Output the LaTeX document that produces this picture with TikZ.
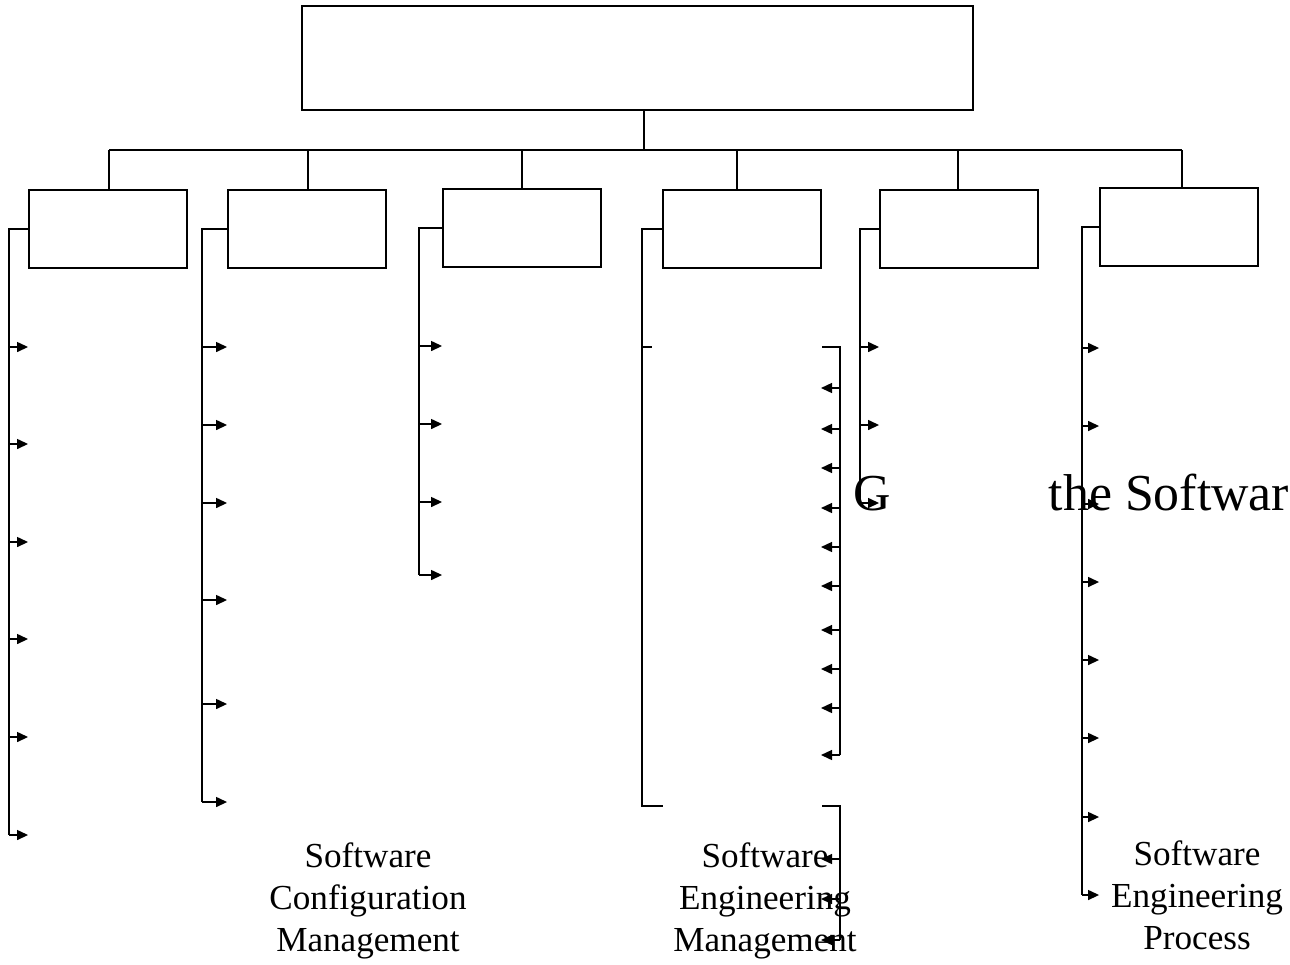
\documentclass[tikz,border=0pt]{standalone}
\usepackage{fontspec}
\setmainfont{Liberation Serif}
\usetikzlibrary{arrows.meta,positioning}

\tikzset{
  box/.style={draw, line width=1.1pt, minimum width=3.16cm, minimum height=1.56cm, inner sep=0pt},
  tip/.style={-{Triangle[length=0.22cm,width=0.2cm]}},
  lbl/.style={align=center, font=\fontsize{20}{23.9}\selectfont},
  big/.style={anchor=base west, inner sep=0pt, font=\fontsize{29.5}{36}\selectfont},
}

\begin{document}
\begin{tikzpicture}[x=0.02cm, y=-0.02cm, line width=0.8pt]
    \useasboundingbox (0,0) rectangle (1290,964);
    \clip (0,0) rectangle (1290,964);

    % boxes
    \node[draw, line width=1pt, minimum width=13.42cm, minimum height=2.08cm] (top) at (637.5,58) {};
    \node[box] (c1) at (108,229) {};
    \node[box] (c2) at (307,229) {};
    \node[box] (c3) at (522,228) {};
    \node[box] (c4) at (742,229) {};
    \node[box] (c5) at (959,229) {};
    \node[box] (c6) at (1179,227) {};

    % bus
    \coordinate (hub) at (644,150);
    \draw (hub) -- (hub |- top.south);
    \draw (109,150) -- (1182,150);
    \foreach \c/\x in {c1/109,c2/308,c3/522,c4/737,c5/958,c6/1182}
        \draw (\c.north -| \x,0) -- (\x,150);

    % branch points
    \coordinate (s1) at (c1.west -| 9,0);
    \coordinate (s2) at (c2.west -| 202,0);
    \coordinate (s3) at (c3.west -| 419,0);
    \coordinate (s4) at (c4.west -| 642,0);
    \coordinate (s5) at (c5.west -| 860,0);
    \coordinate (s6) at (c6.west -| 1082,0);

    \draw (c1.west) -- (s1) -- (s1 |- 0,835);
    \foreach \y in {347,444,542,639,737,835}
        \draw[tip] (s1 |- 0,\y) -- (c1.west |- 0,\y);

    \draw (c2.west) -- (s2) -- (s2 |- 0,802);
    \foreach \y in {347,425,503,600,704,802}
        \draw[tip] (s2 |- 0,\y) -- (c2.west |- 0,\y);

    \draw (c3.west) -- (s3) -- (s3 |- 0,575);
    \foreach \y in {346,424,502,575}
        \draw[tip] (s3 |- 0,\y) -- (c3.west |- 0,\y);

    \draw (c4.west) -- (s4) -- (s4 |- 0,806) -- (663,806);
    \draw (s4 |- 0,347) -- (652,347);
    \coordinate (r1) at (840,347);
    \coordinate (r2) at (840,806);
    \draw (822,347) -- (r1) -- (r1 |- 0,755);
    \foreach \y in {388,429,468,508,547,586,630,669,708,755}
        \draw[tip] (r1 |- 0,\y) -- (821,\y);
    \draw (822,806) -- (r2) -- (r2 |- 0,940);
    \foreach \y in {859,899,940}
        \draw[tip] (r2 |- 0,\y) -- (821,\y);

    \draw (c5.west) -- (s5) -- (s5 |- 0,503);
    \foreach \y in {347,425,503}
        \draw[tip] (s5 |- 0,\y) -- (c5.west |- 0,\y);

    \draw (c6.west) -- (s6) -- (s6 |- 0,895);
    \foreach \y in {348,426,504,582,660,738,817,895}
        \draw[tip] (s6 |- 0,\y) -- (c6.west |- 0,\y);

    % texts
    \node[lbl] (t2) at (368,901) {Software\\Configuration\\Management};
    \node[lbl] (t4) at (765,901) {Software\\Engineering\\Management};
    \node[lbl] (t6) at (1197,895) {Software\\Engineering\\Process};
    \node[big] (g) at (853,510) {G};
    \node[big] (sw) at (1048,510) {the Softwar};
\end{tikzpicture}
\end{document}
